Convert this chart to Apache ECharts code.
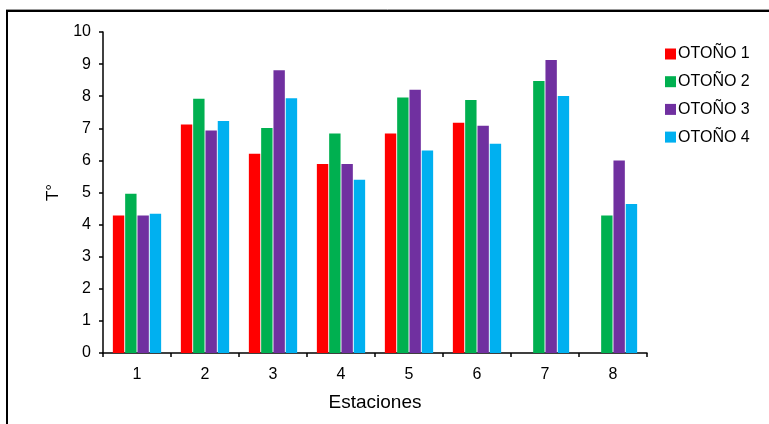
<!DOCTYPE html>
<html>
<head>
<meta charset="utf-8">
<script src="https://cdn.jsdelivr.net/npm/echarts@6/dist/echarts.min.js"></script>
<style>
html,body{margin:0;padding:0;background:#fff;}
#c{width:769px;height:424px;}
</style>
</head>
<body>
<div id="c"></div>
<script>
const categories = ['1', '2', '3', '4', '5', '6', '7', '8'];
const seriesNames = ['OTOÑO 1', 'OTOÑO 2', 'OTOÑO 3', 'OTOÑO 4'];
const otono1 = [4.28, 7.12, 6.21, 5.89, 6.84, 7.17, null, null];
const otono2 = [4.96, 7.92, 7.01, 6.84, 7.96, 7.88, 8.47, 4.28];
const otono3 = [4.28, 6.93, 8.81, 5.89, 8.20, 7.08, 9.13, 6.00];
const otono4 = [4.34, 7.23, 7.94, 5.40, 6.31, 6.52, 8.01, 4.64];
const colors = ['#FF0000', '#00B050', '#7030A0', '#00B0F0'];
const seriesData = [otono1, otono2, otono3, otono4];

const chart = echarts.init(document.getElementById('c'), null, {renderer: 'canvas'});
const font = 'Liberation Sans, Arial, sans-serif';
chart.setOption({
  animation: false,
  backgroundColor: '#fff',
  color: colors,
  textStyle: {fontFamily: font, color: '#000'},
  grid: {left: 103, right: 122, top: 32, bottom: 71, containLabel: false},
  legend: {
    orient: 'vertical',
    left: 660,
    top: 41,
    itemWidth: 11,
    itemHeight: 11,
    itemGap: 11.7,
    icon: 'rect',
    textStyle: {fontFamily: font, fontSize: 16, color: '#000', lineHeight: 16, padding: [0, 0, 0, -3]},
    data: seriesNames
  },
  xAxis: {
    type: 'category',
    data: categories,
    name: 'Estaciones',
    nameLocation: 'middle',
    nameGap: 40,
    nameTextStyle: {fontFamily: font, fontSize: 19, color: '#000'},
    axisLine: {lineStyle: {color: '#000', width: 1.5}},
    axisTick: {show: true, length: 4, lineStyle: {color: '#000', width: 1.5}},
    axisLabel: {fontFamily: font, fontSize: 16, color: '#000', margin: 14}
  },
  yAxis: {
    type: 'value',
    min: 0,
    max: 10,
    interval: 1,
    name: 'T°',
    nameLocation: 'middle',
    nameRotate: 90,
    nameGap: 40,
    nameTextStyle: {fontFamily: font, fontSize: 17, color: '#000'},
    splitLine: {show: false},
    axisLine: {show: true, lineStyle: {color: '#000', width: 1.5}},
    axisTick: {show: true, length: 4, lineStyle: {color: '#000', width: 1.5}},
    axisLabel: {fontFamily: font, fontSize: 16, color: '#000', margin: 12}
  },
  series: seriesNames.map((n, i) => ({
    name: n,
    type: 'bar',
    data: seriesData[i],
    barGap: '8%',
    barCategoryGap: '29%',
    itemStyle: {color: colors[i]}
  })),
  graphic: [
    {type: 'line', shape: {x1: 6, y1: 9.5, x2: 769, y2: 9.5}, style: {stroke: '#999', lineWidth: 1}, silent: true},
    {type: 'line', shape: {x1: 6, y1: 11, x2: 769, y2: 11}, style: {stroke: '#000', lineWidth: 2}, silent: true},
    {type: 'line', shape: {x1: 7, y1: 10, x2: 7, y2: 424}, style: {stroke: '#000', lineWidth: 2}, silent: true}
  ]
});
</script>
</body>
</html>
